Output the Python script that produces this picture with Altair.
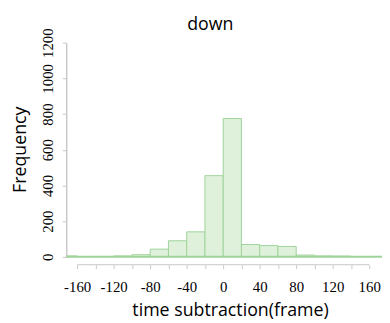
import altair as alt
import pandas as pd

# Histogram bins (left edges, width 20 frames) and frequencies
bin_start = [-180, -160, -140, -120, -100, -80, -60, -40, -20, 0, 20, 40, 60, 80, 100, 120, 140, 160]
counts = [5, 0, 2, 5, 12, 43, 90, 140, 455, 775, 69, 63, 58, 10, 5, 4, 0, 2]
bin_width = 20

x_tick_values = list(range(-160, 161, 20))
y_tick_values = [0, 200, 400, 600, 800, 1000, 1200]
x_domain = [-172, 174]
y_domain = [0, 1200]

df = pd.DataFrame({"start": bin_start, "count": counts})
df["end"] = df["start"] + bin_width
df["zero"] = 0

base_df = pd.DataFrame({"start": [x_domain[0]], "end": [x_domain[1]], "count": [0]})
axis_df = pd.DataFrame({"start": [x_tick_values[0]], "end": [x_tick_values[-1]]})

W, H = 320, 217
GREEN_STROKE = "#9fd39a"
GREEN_FILL = "#dff1db"
GRAY = "#c8c8c8"

xscale = alt.Scale(domain=x_domain, nice=False, zero=False)
yscale = alt.Scale(domain=y_domain, nice=False)

x_axis = alt.Axis(
    values=x_tick_values,
    labelExpr="datum.value % 40 == 0 ? '' + datum.value : ''",
    domain=False,
    grid=False,
    offset=8,
    tickSize=4,
    tickColor=GRAY,
    tickWidth=1,
    labelFont="Liberation Serif",
    labelFontSize=15,
    labelColor="#000000",
    labelPadding=11,
    labelFlush=False,
    labelOverlap=False,
    title="time subtraction(frame)",
    titleFont="Open Sans",
    titleFontSize=18,
    titleFontWeight="normal",
    titleColor="#000000",
    titleX=166,
    titleY=51,
    titleAlign="center",
    titleBaseline="alphabetic",
)

y_axis = alt.Axis(
    values=y_tick_values,
    labelExpr="'' + datum.value",
    grid=False,
    domain=True,
    domainColor=GRAY,
    domainWidth=1.5,
    tickSize=4,
    tickColor=GRAY,
    tickWidth=1,
    labelFont="Liberation Serif",
    labelFontSize=15,
    labelColor="#000000",
    labelAngle=270,
    labelAlign="center",
    labelBaseline="bottom",
    labelPadding=7,
    labelFlush=False,
    labelOverlap=False,
    title="Frequency",
    titleFont="Open Sans",
    titleFontSize=18,
    titleFontWeight="normal",
    titleColor="#000000",
    titleAngle=270,
    titleX=-46,
    titleY=108,
    titleAlign="center",
    titleBaseline="middle",
)

X = alt.X("start:Q", scale=xscale, axis=x_axis)
Y = alt.Y("count:Q", scale=yscale, axis=y_axis)

bars = alt.Chart(df).mark_bar(
    fill=GREEN_FILL, stroke=GREEN_STROKE, strokeWidth=1, clip=True
).encode(
    x=X,
    x2="end:Q",
    y=Y,
    y2="zero:Q",
)

baseline = alt.Chart(base_df).mark_rule(color=GREEN_STROKE, strokeWidth=2).encode(
    x=X,
    x2="end:Q",
    y=Y,
)

x_line = alt.Chart(axis_df).mark_rule(color=GRAY, strokeWidth=1).encode(
    x=X,
    x2="end:Q",
    y=alt.value(H + 8),
)

chart = alt.layer(bars, baseline, x_line).properties(
    width=W,
    height=H,
    title=alt.TitleParams(
        "down", font="Open Sans", fontSize=18, fontWeight="normal",
        color="#000000", anchor="middle", dx=-14, offset=-6, frame="group",
    ),
    autosize=alt.AutoSizeParams(type="none"),
    padding={"left": 59, "top": 33, "right": 0, "bottom": 72},
).configure_view(stroke=None)

chart.save("out.html", embed_options={"renderer": "svg", "actions": False})
